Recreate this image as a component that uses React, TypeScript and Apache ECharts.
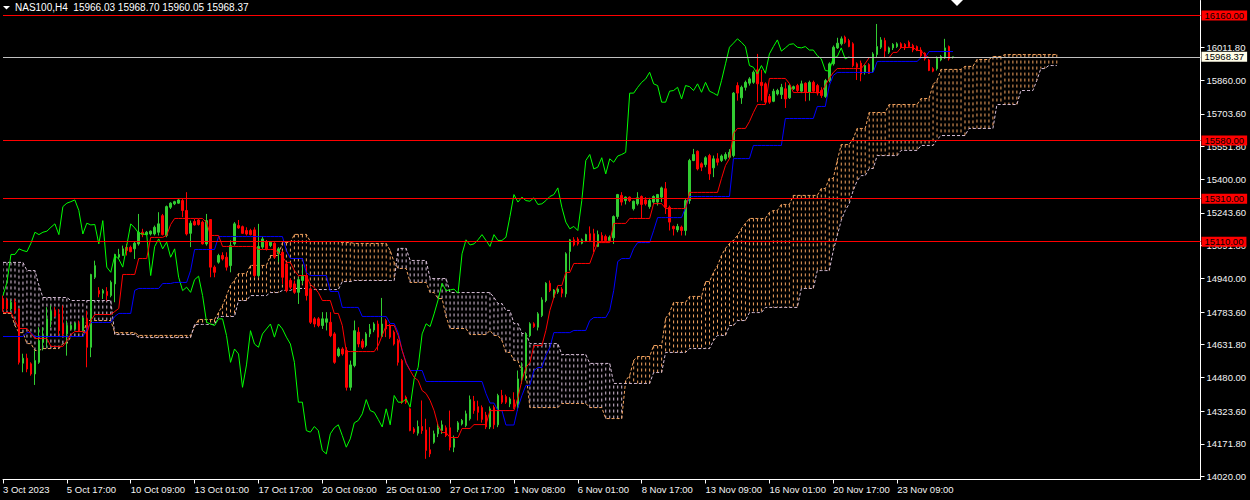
import React, { useEffect, useRef } from "react";
import * as echarts from "echarts";

const FONT = "'Liberation Sans', Arial, sans-serif";
const FONT_SIZE = 9.5;
const TITLE_FONT_SIZE = 10;
const TITLE = "NAS100,H4  15966.03 15968.70 15960.05 15968.37";
const CURRENT_PRICE = 15968.37;
const LEVELS = [16160, 15580, 15310, 15110];
const Y_MIN = 14006;
const Y_MAX = 16230;
const Y_TICKS = [14020, 14171.8, 14323.6, 14480, 14631.8, 14783.6, 14940, 15091.8, 15243.6, 15400, 15551.8, 15703.6, 15860, 16011.8];
const X_TICK_BARS = [0, 16, 32, 48, 64, 80, 96, 112, 128, 144, 160, 176, 192, 208, 224];
const X_TICK_LABELS = ["3 Oct 2023", "5 Oct 17:00", "10 Oct 09:00", "13 Oct 01:00", "17 Oct 17:00", "20 Oct 09:00", "25 Oct 01:00", "27 Oct 17:00", "1 Nov 08:00", "6 Nov 01:00", "8 Nov 17:00", "13 Nov 09:00", "16 Nov 01:00", "20 Nov 17:00", "23 Nov 09:00"];
const TOTAL_SLOTS = 301;
const CHIKOU_SHIFT = 26;
const CLOUD_LAST = 264;

// [open, close, low, high]
const CANDLES = [
  [14844, 14798, 14785, 14860], [14837, 14798, 14790, 14850], [14798, 14829, 14790, 14840], [14829, 14790, 14775, 14845],
  [14798, 14550, 14540, 14800], [14546, 14569, 14504, 14590], [14569, 14519, 14504, 14590], [14543, 14496, 14488, 14550],
  [14496, 14558, 14445, 14605], [14550, 14651, 14543, 14713], [14643, 14674, 14605, 14713], [14667, 14752, 14620, 14806],
  [14744, 14787, 14713, 14814], [14790, 14767, 14760, 14806], [14775, 14698, 14674, 14798], [14728, 14682, 14667, 14814],
  [14682, 14721, 14581, 14744], [14705, 14721, 14698, 14728], [14705, 14732, 14698, 14736], [14728, 14698, 14690, 14744],
  [14698, 14756, 14690, 14760], [14752, 14620, 14527, 14790], [14620, 14958, 14574, 14961], [14945, 14999, 14937, 15022],
  [14883, 14868, 14852, 14899], [14871, 14883, 14844, 14891], [14879, 14860, 14837, 14899], [14860, 14922, 14852, 14930],
  [14914, 15051, 14829, 15054], [15038, 15051, 15030, 15077], [15046, 15077, 15046, 15092], [15084, 15069, 15046, 15100],
  [15084, 15064, 15061, 15092], [15077, 15103, 15030, 15112], [15100, 15154, 15092, 15239], [15154, 15143, 15131, 15170],
  [15143, 15154, 15140, 15160], [15146, 15159, 15139, 15162], [15146, 15177, 15139, 15185], [15154, 15193, 15139, 15247],
  [15231, 15143, 15139, 15239], [15139, 15273, 15131, 15278], [15270, 15289, 15262, 15293], [15286, 15296, 15280, 15300],
  [15289, 15304, 15286, 15309], [15301, 15255, 15224, 15309], [15255, 15146, 15139, 15340], [15149, 15196, 15085, 15208],
  [15204, 15188, 15185, 15216], [15211, 15190, 15185, 15216], [15201, 15100, 15097, 15208], [15100, 15208, 15092, 15239],
  [15213, 14992, 14945, 15213], [14992, 14968, 14945, 15000], [15015, 15046, 15008, 15054], [15046, 15030, 15023, 15061],
  [15038, 14992, 14976, 15061], [14999, 15092, 14968, 15116], [15100, 15193, 15092, 15201], [15185, 15174, 15170, 15211],
  [15180, 15149, 15146, 15185], [15162, 15146, 15139, 15177], [15162, 15143, 15139, 15170], [15165, 14953, 14945, 15177],
  [14953, 15088, 14945, 15193], [15085, 15123, 15077, 15134], [15111, 15077, 15069, 15118], [15092, 15108, 15085, 15112],
  [15103, 15038, 15030, 15108], [15054, 15077, 15015, 15085], [15061, 14945, 14914, 15069], [15007, 14883, 14875, 15015],
  [14930, 14899, 14890, 14940], [14914, 14875, 14868, 14930], [14875, 14934, 14821, 14945], [14930, 14950, 14914, 14999],
  [14953, 14860, 14837, 14999], [14891, 14736, 14728, 14899], [14752, 14728, 14713, 14760], [14752, 14721, 14713, 14760],
  [14721, 14752, 14705, 14783], [14736, 14752, 14698, 14783], [14736, 14674, 14667, 14783], [14682, 14550, 14543, 14690],
  [14581, 14612, 14574, 14620], [14612, 14589, 14581, 14620], [14605, 14434, 14419, 14620], [14434, 14538, 14419, 14558],
  [14535, 14697, 14527, 14744], [14690, 14635, 14620, 14713], [14648, 14620, 14612, 14659], [14628, 14682, 14620, 14690],
  [14682, 14705, 14667, 14728], [14700, 14728, 14690, 14736], [14728, 14667, 14605, 14744], [14670, 14728, 14667, 14849],
  [14744, 14705, 14667, 14752], [14721, 14667, 14659, 14728], [14690, 14635, 14628, 14698], [14651, 14550, 14535, 14659],
  [14558, 14365, 14357, 14566], [14388, 14365, 14357, 14396], [14334, 14233, 14230, 14340], [14241, 14226, 14218, 14249],
  [14221, 14252, 14210, 14280], [14252, 14233, 14218, 14373], [14236, 14141, 14102, 14288], [14144, 14125, 14110, 14249],
  [14179, 14218, 14172, 14233], [14218, 14246, 14203, 14264], [14233, 14260, 14218, 14280], [14246, 14210, 14203, 14257],
  [14246, 14156, 14141, 14326], [14156, 14195, 14133, 14210], [14237, 14269, 14226, 14277], [14264, 14280, 14257, 14287],
  [14257, 14311, 14249, 14326], [14288, 14377, 14280, 14396], [14369, 14326, 14311, 14394], [14344, 14318, 14280, 14372],
  [14340, 14285, 14270, 14350], [14305, 14250, 14240, 14320], [14250, 14334, 14240, 14345], [14341, 14260, 14241, 14350],
  [14260, 14396, 14249, 14404], [14396, 14365, 14357, 14422], [14391, 14365, 14357, 14400], [14357, 14380, 14342, 14388],
  [14376, 14342, 14334, 14411], [14342, 14473, 14326, 14512], [14473, 14527, 14450, 14550], [14512, 14682, 14465, 14690],
  [14674, 14729, 14667, 14736], [14729, 14716, 14710, 14736], [14713, 14775, 14698, 14783], [14767, 14840, 14760, 14852],
  [14837, 14917, 14829, 14922], [14917, 14883, 14876, 14930], [14852, 14886, 14845, 14890], [14876, 14890, 14868, 14899],
  [14890, 14871, 14852, 14899], [14868, 15054, 14852, 15061], [15065, 15119, 14976, 15123], [15119, 15095, 15088, 15131],
  [15122, 15100, 15092, 15131], [15103, 15119, 15098, 15125], [15113, 15143, 15108, 15147], [15147, 15116, 15108, 15181],
  [15147, 15088, 15061, 15170], [15088, 15143, 15085, 15162], [15139, 15116, 15108, 15154], [15134, 15116, 15108, 15143],
  [15116, 15131, 15108, 15139], [15128, 15227, 15100, 15232], [15227, 15329, 15216, 15332], [15325, 15294, 15278, 15340],
  [15301, 15317, 15283, 15320], [15317, 15301, 15294, 15320], [15263, 15298, 15255, 15301], [15286, 15314, 15278, 15340],
  [15320, 15283, 15216, 15325], [15304, 15286, 15278, 15317], [15273, 15301, 15263, 15314], [15294, 15320, 15286, 15325],
  [15294, 15329, 15278, 15332], [15317, 15360, 15294, 15366], [15356, 15270, 15239, 15387], [15270, 15201, 15162, 15278],
  [15181, 15170, 15139, 15185], [15165, 15181, 15154, 15193], [15178, 15162, 15139, 15185], [15162, 15301, 15139, 15309],
  [15301, 15487, 15286, 15495], [15487, 15515, 15484, 15541], [15530, 15448, 15441, 15534], [15472, 15456, 15438, 15479],
  [15468, 15500, 15456, 15507], [15510, 15425, 15397, 15518], [15453, 15495, 15410, 15510], [15495, 15479, 15464, 15521],
  [15487, 15508, 15480, 15515], [15495, 15515, 15487, 15525], [15502, 15525, 15495, 15540], [15510, 15800, 15502, 15805],
  [15835, 15800, 15765, 15850], [15778, 15827, 15750, 15835], [15827, 15850, 15812, 15858], [15846, 15866, 15835, 15874],
  [15850, 15897, 15843, 15905], [15908, 15843, 15758, 15982], [15850, 15835, 15765, 15908], [15843, 15758, 15750, 15850],
  [15784, 15758, 15750, 15796], [15762, 15809, 15758, 15820], [15796, 15812, 15789, 15820], [15793, 15827, 15773, 15843],
  [15820, 15773, 15731, 15850], [15778, 15835, 15773, 15843], [15820, 15830, 15815, 15835], [15835, 15812, 15804, 15843],
  [15809, 15843, 15800, 15858], [15846, 15804, 15762, 15850], [15804, 15850, 15765, 15858], [15850, 15809, 15800, 15858],
  [15835, 15800, 15789, 15843], [15812, 15789, 15778, 15827], [15784, 15858, 15778, 15866], [15858, 15936, 15850, 15943],
  [15936, 16013, 15928, 16021], [16010, 16032, 16005, 16057], [16029, 16052, 16021, 16063], [16060, 16036, 16029, 16067],
  [16044, 16016, 16013, 16052], [16029, 15928, 15920, 16036], [15936, 15920, 15861, 15943], [15939, 15889, 15855, 15951],
  [15897, 15928, 15886, 15936], [15933, 15892, 15889, 15939], [15905, 15982, 15897, 15990], [15979, 16016, 15967, 16121],
  [16013, 16047, 16005, 16060], [16044, 15995, 15964, 16057], [15990, 16010, 15982, 16016], [16010, 16026, 16000, 16032],
  [16016, 16029, 16010, 16036], [16029, 16013, 16005, 16036], [16026, 16010, 16000, 16032], [16036, 16016, 16013, 16044],
  [16021, 16000, 15990, 16029], [16016, 16000, 15995, 16021], [16000, 15974, 15967, 16013], [15985, 15959, 15951, 15990],
  [15954, 15905, 15902, 15959], [15913, 15902, 15897, 15920], [15913, 15964, 15905, 15970], [15954, 15970, 15948, 15977],
  [15964, 16010, 15959, 16052], [16016, 15959, 15951, 16021], [15966.03, 15968.37, 15960.05, 15968.7],
];
const LAST_BAR = CANDLES.length - 1;

// [first bar, value] steps
const TENKAN_STEPS = [
  [0, 14781], [3, 14744], [4, 14707], [7, 14684], [8, 14661], [12, 14624], [16, 14651], [17, 14679], [18, 14693],
  [21, 14684], [22, 14744], [23, 14772], [28, 14786], [29, 14800], [30, 14958], [34, 15032], [37, 15130], [41, 15139],
  [42, 15190], [43, 15218], [51, 15199], [52, 15139], [55, 15088], [64, 15074], [69, 15060], [70, 15041], [71, 15014],
  [73, 14976], [74, 14953], [77, 14911], [78, 14897], [79, 14874], [80, 14837], [83, 14777], [85, 14721], [86, 14600],
  [94, 14628], [95, 14675], [96, 14721], [99, 14675], [100, 14605], [101, 14545], [102, 14512], [103, 14480], [104, 14466],
  [105, 14419], [106, 14405], [107, 14373], [108, 14326], [109, 14257], [110, 14224], [112, 14201], [115, 14243],
  [118, 14261], [122, 14326], [129, 14387], [130, 14466], [131, 14526], [132, 14549], [133, 14628], [136, 14698],
  [137, 14791], [138, 14851], [139, 14907], [141, 14967], [143, 15009], [148, 15060], [149, 15106], [153, 15195],
  [157, 15218], [163, 15287], [166, 15264], [172, 15339], [180, 15404], [181, 15464], [182, 15496], [183, 15612],
  [184, 15636], [187, 15668], [188, 15710], [189, 15747], [192, 15868], [197, 15845], [198, 15803], [206, 15835],
  [207, 15868], [208, 15896], [209, 15914], [216, 15937], [217, 15965], [223, 15989], [225, 16012], [229, 15998],
  [231, 15975], [232, 15965],
];
const KIJUN_STEPS = [
  [0, 14670], [6, 14688], [8, 14670], [21, 14702], [22, 14735], [28, 14763], [29, 14777], [33, 14884], [34, 14893],
  [40, 14916], [43, 14921], [47, 14976], [48, 15074], [54, 15134], [71, 15069], [72, 15032], [76, 14967], [77, 14953],
  [82, 14879], [85, 14805], [90, 14763], [97, 14730], [99, 14688], [100, 14605], [101, 14549], [102, 14512], [106, 14461],
  [121, 14405], [122, 14361], [124, 14326], [126, 14259], [129, 14340], [130, 14396], [131, 14443], [133, 14512],
  [134, 14526], [136, 14582], [137, 14619], [138, 14688], [143, 14698], [147, 14744], [148, 14758], [152, 14791],
  [153, 14884], [154, 15018], [155, 15032], [158, 15079], [159, 15106], [163, 15162], [164, 15222], [171, 15269],
  [172, 15320], [183, 15496], [188, 15557], [196, 15682], [204, 15738], [207, 15835], [208, 15882], [209, 15896],
  [219, 15947], [230, 15965], [232, 15993],
];
const SENKOU_A_STEPS = [
  [0, 14777], [3, 14721], [4, 14688], [6, 14637], [8, 14605], [10, 14614], [15, 14637], [17, 14670], [21, 14744],
  [28, 14688], [34, 14675], [48, 14716], [49, 14749], [54, 14781], [55, 14814], [56, 14860], [57, 14907], [58, 14930],
  [59, 14962], [62, 15000], [67, 15046], [70, 15106], [73, 15144], [77, 15111], [85, 15106], [88, 15102], [97, 15069],
  [98, 15014], [99, 14986], [102, 14921], [107, 14874], [109, 14846], [111, 14763], [112, 14707], [117, 14679],
  [122, 14698], [123, 14675], [125, 14651], [126, 14596], [128, 14559], [130, 14503], [132, 14340], [140, 14359],
  [147, 14340], [151, 14289], [156, 14466], [157, 14489], [158, 14559], [159, 14577], [163, 14628], [166, 14754],
  [167, 14781], [168, 14828], [172, 14856], [176, 14925], [178, 14967], [179, 14999], [180, 15046], [181, 15079],
  [182, 15102], [183, 15116], [184, 15139], [185, 15171], [186, 15195], [187, 15218], [192, 15246], [193, 15255],
  [195, 15283], [198, 15325], [205, 15357], [207, 15404], [209, 15487], [210, 15561], [213, 15589], [214, 15636],
  [217, 15710], [222, 15747], [230, 15775], [233, 15840], [234, 15859], [235, 15910], [241, 15924], [244, 15956],
  [248, 15970], [251, 15979],
];
const SENKOU_B_STEPS = [
  [0, 15014], [6, 14976], [9, 14907], [10, 14851], [17, 14837], [28, 14679], [34, 14665], [48, 14726], [54, 14763],
  [59, 14837], [62, 14860], [67, 14874], [70, 14884], [73, 14893], [77, 14888], [85, 14925], [88, 14930], [99, 15079],
  [102, 15023], [107, 14939], [112, 14874], [123, 14851], [124, 14823], [126, 14791], [128, 14730], [130, 14684],
  [132, 14637], [140, 14586], [147, 14545], [153, 14452], [163, 14503], [166, 14596], [172, 14614], [178, 14651],
  [179, 14675], [182, 14721], [184, 14744], [187, 14781], [191, 14805], [200, 14893], [204, 14976], [208, 15069],
  [209, 15139], [210, 15209], [211, 15255], [212, 15287], [213, 15348], [214, 15394], [215, 15417], [217, 15450],
  [219, 15510], [225, 15534], [230, 15557], [234, 15585], [235, 15603], [242, 15636], [249, 15747], [255, 15812],
  [259, 15859], [260, 15914], [262, 15928],
];

const BULL = "#32cd32";
const BEAR = "#ff0000";
const SANDY = "#f4a460";
const THISTLE = "#d8bfd8";
const FG = "#f4f4f4";

function expandSteps(steps: number[][], last: number): number[] {
  const out: number[] = [];
  for (let k = 0; k < steps.length; k++) {
    const from = steps[k][0];
    const to = k + 1 < steps.length ? steps[k + 1][0] - 1 : last;
    for (let i = from; i <= to; i++) out.push(steps[k][1]);
  }
  return out;
}

function buildOption() {
  const categories = Array.from({ length: TOTAL_SLOTS }, (_, i) => String(i));
  const tenkan = expandSteps(TENKAN_STEPS, LAST_BAR);
  const kijun = expandSteps(KIJUN_STEPS, LAST_BAR);
  const spanA = expandSteps(SENKOU_A_STEPS, CLOUD_LAST);
  const spanB = expandSteps(SENKOU_B_STEPS, CLOUD_LAST);
  const chikou = CANDLES.slice(CHIKOU_SHIFT).map((c) => c[1]);
  const cloud = spanA.map((a, i) => [i, a, spanB[i]]);
  const tickSet = new Set(X_TICK_BARS);

  const tag = {
    show: true,
    position: "end",
    distance: 1,
    formatter: (p: any) => Number(p.value).toFixed(2),
    color: "#000",
    fontFamily: FONT,
    fontSize: FONT_SIZE,
    lineHeight: 10,
    padding: [0, 3, 0, 3],
  };

  return {
    backgroundColor: "#000000",
    animation: false,
    grid: { left: 0.5, right: 49.5, top: 0.5, bottom: 20.5 },
    xAxis: {
      type: "category",
      data: categories,
      boundaryGap: false,
      axisLine: { show: true, lineStyle: { color: "#ffffff", width: 1 } },
      axisTick: {
        show: true,
        length: 4,
        interval: (i: number) => tickSet.has(i),
        lineStyle: { color: "#ffffff" },
      },
      axisLabel: {
        interval: (i: number) => tickSet.has(i),
        formatter: (v: string) => {
          const k = X_TICK_BARS.indexOf(Number(v));
          return k >= 0 ? X_TICK_LABELS[k] : "";
        },
        align: "left",
        color: FG,
        fontFamily: FONT,
        fontSize: FONT_SIZE,
        margin: 5,
      },
      splitLine: { show: false },
    },
    yAxis: {
      type: "value",
      position: "right",
      min: Y_MIN,
      max: Y_MAX,
      axisLine: { show: true, lineStyle: { color: "#ffffff", width: 1 } },
      axisTick: { show: true, length: 4, customValues: Y_TICKS, lineStyle: { color: "#ffffff" } },
      axisLabel: {
        customValues: Y_TICKS,
        formatter: (v: number) => v.toFixed(2),
        color: FG,
        fontFamily: FONT,
        fontSize: FONT_SIZE,
        lineHeight: 9,
        margin: 6,
      },
      splitLine: { show: false },
    },
    graphic: [
      { type: "polygon", shape: { points: [[3, 6], [10, 6], [6.5, 9.5]] }, style: { fill: "#ffffff" } },
      { type: "text", left: 15, top: 2, style: { text: TITLE, fill: "#ffffff", fontSize: TITLE_FONT_SIZE, fontFamily: FONT } },
      { type: "polygon", shape: { points: [[951, 0], [963, 0], [957, 6]] }, style: { fill: "#ffffff" } },
    ],
    series: [
      {
        type: "custom",
        data: cloud,
        encode: { x: 0, y: [1, 2] },
        z: 1,
        silent: true,
        clip: true,
        renderItem: (params: any, api: any) => {
          const i = api.value(0);
          const a = api.value(1);
          const b = api.value(2);
          const p1 = api.coord([i, a]);
          const p2 = api.coord([i, b]);
          return {
            type: "line",
            shape: { x1: p1[0], y1: p1[1], x2: p2[0], y2: p2[1] },
            style: { stroke: a >= b ? SANDY : THISTLE, lineWidth: 1, lineDash: [3, 3] },
          };
        },
      },
      {
        type: "line",
        data: spanA,
        symbol: "none",
        silent: true,
        z: 2,
        lineStyle: { color: SANDY, width: 1, type: [3, 2] },
      },
      {
        type: "line",
        data: spanB,
        symbol: "none",
        silent: true,
        z: 2,
        lineStyle: { color: THISTLE, width: 1, type: [3, 2] },
      },
      {
        type: "candlestick",
        data: CANDLES,
        barWidth: 2,
        silent: true,
        z: 3,
        itemStyle: { color: BULL, color0: BEAR, borderColor: BULL, borderColor0: BEAR, borderWidth: 1 },
      },
      {
        type: "line",
        data: chikou,
        symbol: "none",
        silent: true,
        z: 4,
        lineStyle: { color: "#00ff00", width: 1 },
      },
      {
        type: "line",
        data: kijun,
        symbol: "none",
        silent: true,
        z: 4,
        lineStyle: { color: "#0000ff", width: 1 },
      },
      {
        type: "line",
        data: tenkan,
        symbol: "none",
        silent: true,
        z: 4,
        lineStyle: { color: "#ff0000", width: 1 },
        markLine: {
          silent: true,
          symbol: ["none", "none"],
          animation: false,
          precision: 2,
          data: [
            ...LEVELS.map((v) => ({
              yAxis: v,
              lineStyle: { color: "#ff0000", width: 1, type: "solid" },
              label: { ...tag, backgroundColor: "#ff0000" },
            })),
            {
              yAxis: CURRENT_PRICE,
              lineStyle: { color: "#c0c0c0", width: 1, type: "solid" },
              label: { ...tag, backgroundColor: "#fffde8" },
            },
          ],
        },
      },
    ],
  };
}

export default function App() {
  const ref = useRef<HTMLDivElement>(null);
  useEffect(() => {
    if (!ref.current) return;
    const chart = echarts.init(ref.current, null, { renderer: "svg" });
    chart.setOption(buildOption() as any);
    return () => chart.dispose();
  }, []);
  return (
    <div
      ref={ref}
      style={{ position: "fixed", left: 0, top: 0, width: 1250, height: 500, background: "#000" }}
    />
  );
}
